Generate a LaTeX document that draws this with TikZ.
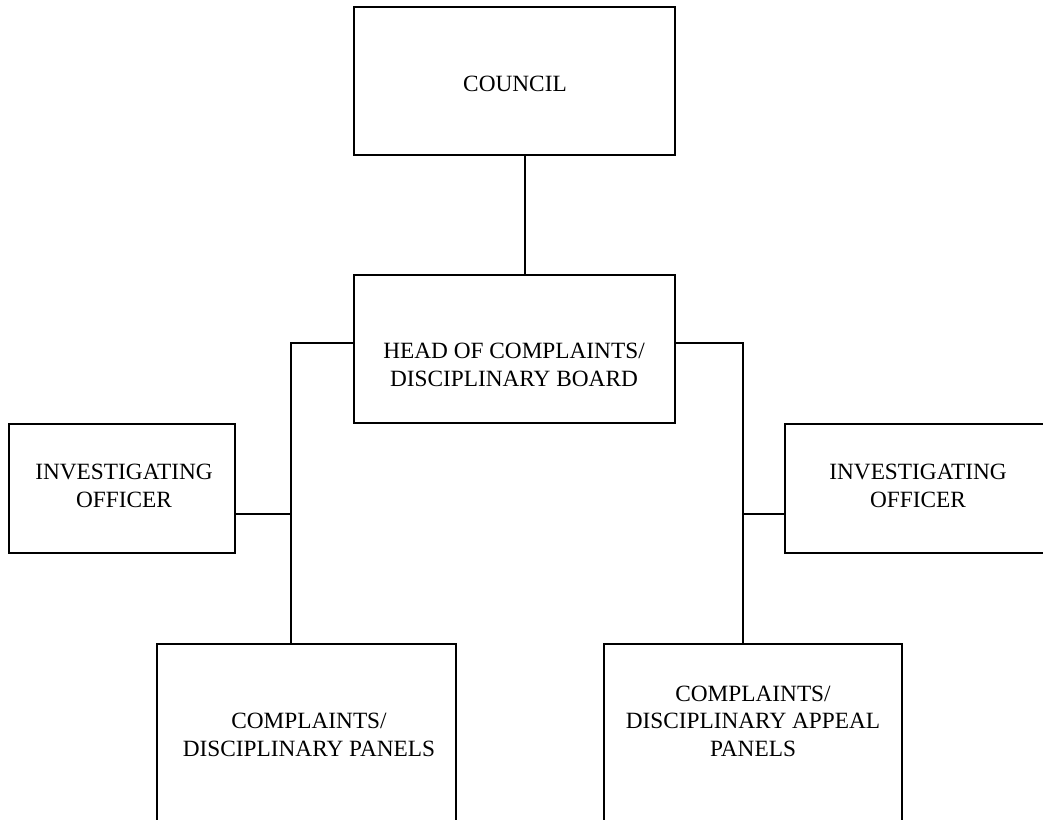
\documentclass[tikz,border=0pt]{standalone}
\usepackage{fontspec}
\setmainfont{Liberation Serif}
\begin{document}
\begin{tikzpicture}[x=1pt,y=-1pt,
  box/.style={draw=black,line width=1.3pt,rectangle,inner sep=0pt},
  lbl/.style={align=center,font=\fontsize{23.3}{27.5}\selectfont,inner sep=0pt},
  conn/.style={draw=black,line width=1.3pt}]
\useasboundingbox (0,0) rectangle (1043,819);
\clip (0,0) rectangle (1043,819);
% boxes
\node[box,minimum width=321pt,minimum height=148pt] (council) at (514.5,81) {};
\node[box,minimum width=321pt,minimum height=148pt] (head) at (514.5,349) {};
\node[box,minimum width=226pt,minimum height=129pt] (iol) at (122,488.5) {};
\node[box,minimum width=270pt,minimum height=129pt] (ior) at (920,488.5) {};
\node[box,minimum width=299pt,minimum height=200pt] (cdp) at (306.5,744) {};
\node[box,minimum width=298pt,minimum height=200pt] (cdap) at (753,744) {};
% labels
\node[lbl] (tcouncil) at (515,84) {COUNCIL};
\node[lbl] (thead) at (514,365) {HEAD OF COMPLAINTS/\\DISCIPLINARY BOARD};
\node[lbl] (tiol) at (124,486) {INVESTIGATING\\OFFICER};
\node[lbl] (tior) at (918,486) {INVESTIGATING\\OFFICER};
\node[lbl] (tcdp) at (309,735) {COMPLAINTS/\\DISCIPLINARY PANELS};
\node[lbl] (tcdap) at (753,721) {COMPLAINTS/\\DISCIPLINARY APPEAL\\PANELS};
% connector points
\coordinate (cj) at (525,0);
\coordinate (lj) at (291,343);
\coordinate (rj) at (743,343);
\coordinate (lm) at (291,514);
\coordinate (rm) at (743,514);
% connectors
\draw[conn] (council.south -| cj) -- (head.north -| cj);
\draw[conn] (head.west |- lj) -- (lj) -- (lm) -- (cdp.north -| lm);
\draw[conn] (lm) -- (iol.east |- lm);
\draw[conn] (head.east |- rj) -- (rj) -- (rm) -- (cdap.north -| rm);
\draw[conn] (rm) -- (ior.west |- rm);
\end{tikzpicture}
\end{document}
